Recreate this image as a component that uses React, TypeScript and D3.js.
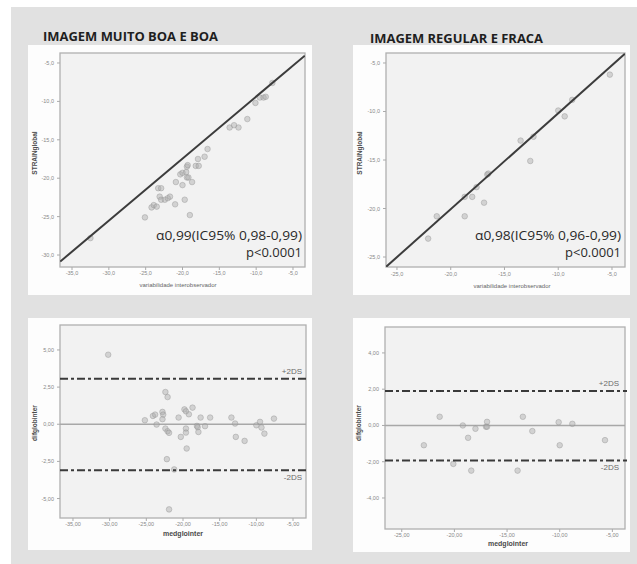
import React from 'react';
import * as d3 from 'd3';

// scatter: variabilidade interobservador (x) vs STRAINglobal (y)
const muitoBoaStrain: [number, number][] = [
  [-32.5, -27.8], [-25.1, -25.1], [-24.2, -23.8], [-23.9, -23.5], [-23.5, -23.7],
  [-23.3, -21.3], [-22.9, -21.3], [-23.1, -22.4], [-22.9, -22.8], [-22.4, -22.8],
  [-22.0, -22.6], [-21.7, -22.4], [-21.0, -23.4], [-20.9, -20.5], [-20.3, -19.5],
  [-20.0, -19.3], [-20.0, -20.9], [-19.7, -22.8], [-19.5, -19.2], [-19.4, -18.5],
  [-19.4, -19.9], [-19.2, -19.9], [-19.3, -18.3], [-18.7, -20.5], [-19.0, -24.8],
  [-18.2, -18.4], [-17.8, -18.4], [-17.9, -17.5], [-17.0, -17.2], [-16.6, -16.2],
  [-13.6, -13.4], [-13.0, -13.1], [-12.4, -13.4], [-11.2, -12.3], [-10.1, -10.2],
  [-9.5, -9.5], [-9.0, -9.5], [-8.7, -9.4], [-7.8, -7.6],
];
const regularStrain: [number, number][] = [
  [-22.1, -23.1], [-21.3, -20.8], [-18.7, -20.8], [-18.7, -18.8], [-18.0, -18.8],
  [-17.6, -17.8], [-16.9, -19.4], [-16.6, -16.5], [-16.5, -16.4], [-13.5, -13.0],
  [-12.3, -12.6], [-12.6, -15.1], [-10.0, -9.9], [-9.4, -10.5], [-8.7, -8.8],
  [-5.2, -6.2],
];
const muitoBoaFit: [number, number][] = [[-36.6, -30.85], [-3.4, -4.05]];
const regularFit: [number, number][] = [[-26.0, -26.0], [-3.8, -4.05]];

// Bland-Altman: medglointer (x) vs difglobinter (y)
const muitoBoaDif: [number, number][] = [
  [-30.2, 4.68], [-25.2, 0.27], [-24.1, 0.56], [-23.8, 0.65], [-23.6, -0.02],
  [-22.8, 0.83], [-22.7, 0.65], [-22.8, 0.34], [-22.4, 2.17], [-22.1, 1.83],
  [-22.4, -0.29], [-22.1, -0.47], [-21.9, -0.58], [-22.2, -2.35], [-21.2, -3.04],
  [-21.9, -5.73], [-20.6, 0.45], [-20.3, -0.85], [-19.8, 1.0], [-19.6, 0.87],
  [-19.6, -0.29], [-19.6, -0.56], [-19.5, -1.63], [-19.2, 0.67], [-18.7, 1.12],
  [-18.1, -0.11], [-18.0, -0.2], [-17.9, -0.52], [-17.6, 0.45], [-17.0, -0.13],
  [-16.3, 0.45], [-13.4, 0.45], [-12.9, 0.05], [-12.8, -0.85], [-11.6, -1.12],
  [-10.0, -0.07], [-9.5, 0.16], [-9.3, -0.22], [-8.9, -0.63], [-7.6, 0.38],
];
const regularDif: [number, number][] = [
  [-22.9, -1.09], [-21.4, 0.48], [-20.1, -2.12], [-19.2, 0.0], [-18.7, -0.68],
  [-18.4, -2.49], [-18.0, -0.18], [-17.0, -0.07], [-16.9, -0.07], [-16.9, 0.2],
  [-14.0, -2.49], [-13.5, 0.48], [-12.6, -0.31], [-10.1, 0.18], [-10.0, -1.09],
  [-8.8, 0.09], [-5.7, -0.81],
];
const muitoBoaLimits = [3.07, -3.09];
const regularLimits = [1.9, -1.93];

const strainTicksA = [-35, -30, -25, -20, -15, -10, -5];
const strainTicksAY = [-5, -10, -15, -20, -25, -30];
const strainTicksB = [-25, -20, -15, -10, -5];
const strainTicksBY = [-5, -10, -15, -20, -25];
const difTicksA = [5, 2.5, 0, -2.5, -5];
const difTicksB = [4, 2, 0, -2, -4];
const medTicksA = [-35, -30, -25, -20, -15, -10, -5];
const medTicksB = [-25, -20, -15, -10, -5];

const fmt1 = (v: number) => v.toFixed(1).replace('.', ',');
const fmt2 = (v: number) => v.toFixed(2).replace('.', ',');

interface PanelProps {
  frame: { x0: number; x1: number; y0: number; y1: number };
  xDomain: [number, number];
  yDomain: [number, number];
  xTicks: number[];
  yTicks: number[];
  fmt: (v: number) => string;
  points: [number, number][];
  fit?: [number, number][];
  limits?: number[];
  xTitle: string;
  xTitlePos: [number, number];
  xBold?: boolean;
  yTitle: string;
  yTitlePos: [number, number];
  tickLabelY: number;
  note?: { a: string; x: number; y: number };
  limitLabelX?: number;
}

const Panel: React.FC<PanelProps> = (p) => {
  const { frame } = p;
  const xs = d3.scaleLinear().domain(p.xDomain).range([frame.x0, frame.x1]);
  const ys = d3.scaleLinear().domain(p.yDomain).range([frame.y1, frame.y0]);
  const line = d3.line<[number, number]>().x(d => xs(d[0])).y(d => ys(d[1]));
  const clipId = `clip-${frame.x0}-${frame.y0}`;
  return (
    <g>
      <defs>
        <clipPath id={clipId}>
          <rect x={frame.x0} y={frame.y0} width={frame.x1 - frame.x0} height={frame.y1 - frame.y0} />
        </clipPath>
      </defs>
      <rect x={frame.x0} y={frame.y0} width={frame.x1 - frame.x0} height={frame.y1 - frame.y0}
        fill="#f2f2f2" stroke="#b0b0b0" strokeWidth={1.3} />
      {p.xTicks.map(t => (
        <g key={'x' + t}>
          <line x1={xs(t)} x2={xs(t)} y1={frame.y1} y2={frame.y1 + 3} stroke="#aaa" />
          <text x={xs(t)} y={p.tickLabelY} fontSize={5.5} fill="#888" textAnchor="middle">{p.fmt(t)}</text>
        </g>
      ))}
      {p.yTicks.map(t => (
        <g key={'y' + t}>
          <line x1={frame.x0 - 3} x2={frame.x0} y1={ys(t)} y2={ys(t)} stroke="#aaa" />
          <text x={frame.x0 - 6} y={ys(t) + 2} fontSize={5.5} fill="#888" textAnchor="end">{p.fmt(t)}</text>
        </g>
      ))}
      <g clipPath={`url(#${clipId})`}>
        {p.limits && (
          <line x1={frame.x0} x2={frame.x1} y1={ys(0)} y2={ys(0)} stroke="#a8a8a8" strokeWidth={1.5} />
        )}
        {p.points.map((d, i) => (
          <circle key={i} cx={xs(d[0])} cy={ys(d[1])} r={2.8}
            fill="#aaaaaa" fillOpacity={0.45} stroke="#909090" strokeOpacity={0.5} strokeWidth={0.8} />
        ))}
        {p.fit && (
          <path d={line(p.fit) || ''} fill="none" stroke="#3c3c3c" strokeWidth={2} />
        )}
      </g>
      {p.limits && p.limits.map((v, i) => (
        <g key={'l' + i}>
          <line x1={frame.x0} x2={frame.x1 + 2} y1={ys(v)} y2={ys(v)} stroke="#3a3a3a"
            strokeWidth={2} strokeDasharray="8,3,3,3" />
          <text x={p.limitLabelX} y={i === 0 ? ys(v) - 5 : ys(v) + 10} fontSize={8}
            fill="#6a6a6a" textAnchor="end">{i === 0 ? '+2DS' : '-2DS'}</text>
        </g>
      ))}
      <text x={p.xTitlePos[0]} y={p.xTitlePos[1]} fontSize={p.xBold ? 7 : 6} textAnchor="middle"
        fill={p.xBold ? '#4a4a4a' : '#666'} fontWeight={p.xBold ? 'bold' : 'normal'}>{p.xTitle}</text>
      <text transform={`translate(${p.yTitlePos[0]},${p.yTitlePos[1]}) rotate(-90)`} fontSize={6.5}
        textAnchor="middle" fill="#4a4a4a" fontWeight="bold">{p.yTitle}</text>
      {p.note && (
        <g fontFamily="Open Sans" fill="#2a2a2a">
          <text x={p.note.x} y={p.note.y} fontSize={13} textAnchor="end" textLength={146}
            lengthAdjust="spacingAndGlyphs">{p.note.a}</text>
          <text x={p.note.x} y={p.note.y + 17} fontSize={13} textAnchor="end">p&lt;0.0001</text>
        </g>
      )}
    </g>
  );
};

const App: React.FC = () => {
  return (
    <svg width={637} height={564} style={{ position: 'absolute', left: 0, top: 0 }}
      fontFamily="Liberation Sans">
      <rect x={0} y={0} width={637} height={564} fill="#fff" />
      <rect x={11} y={7} width={626} height={557} fill="#e1e1e1" />
      <rect x={28} y={45} width={284} height={250} fill="#fdfdfd" />
      <rect x={353} y={45} width={277} height={250} fill="#fdfdfd" />
      <rect x={28} y={318} width={284} height={232} fill="#fdfdfd" />
      <rect x={353} y={318} width={277} height={234} fill="#fdfdfd" />

      <text x={43} y={41} fontSize={12.5} fontWeight="bold" fill="#1e1e1e" fontFamily="Open Sans"
        textLength={175} lengthAdjust="spacingAndGlyphs">IMAGEM MUITO BOA E BOA</text>
      <text x={370} y={43} fontSize={12.5} fontWeight="bold" fill="#1e1e1e" fontFamily="Open Sans"
        textLength={173} lengthAdjust="spacingAndGlyphs">IMAGEM REGULAR E FRACA</text>

      <Panel
        frame={{ x0: 60, x1: 305, y0: 53, y1: 267 }}
        xDomain={[-36.63, -3.37]} yDomain={[-31.56, -3.7]}
        xTicks={strainTicksA} yTicks={strainTicksAY} fmt={fmt1}
        points={muitoBoaStrain} fit={muitoBoaFit}
        xTitle="variabilidade interobservador" xTitlePos={[178, 287]}
        yTitle="STRAINglobal" yTitlePos={[37, 153]} tickLabelY={275}
        note={{ a: 'α0,99(IC95% 0,98-0,99)', x: 302, y: 240 }}
      />
      <Panel
        frame={{ x0: 386, x1: 625, y0: 53, y1: 267 }}
        xDomain={[-26.02, -3.79]} yDomain={[-26.03, -3.97]}
        xTicks={strainTicksB} yTicks={strainTicksBY} fmt={fmt1}
        points={regularStrain} fit={regularFit}
        xTitle="variabilidade interobservador" xTitlePos={[512, 288]}
        yTitle="STRAINglobal" yTitlePos={[362, 153]} tickLabelY={276}
        note={{ a: 'α0,98(IC95% 0,96-0,99)', x: 621, y: 240 }}
      />
      <Panel
        frame={{ x0: 60, x1: 306, y0: 325, y1: 518 }}
        xDomain={[-36.77, -3.23]} yDomain={[-6.31, 6.68]}
        xTicks={medTicksA} yTicks={difTicksA} fmt={fmt2}
        points={muitoBoaDif} limits={muitoBoaLimits} limitLabelX={302}
        xTitle="medglointer" xTitlePos={[183, 536]} xBold
        yTitle="difglobinter" yTitlePos={[37, 423]} tickLabelY={526}
      />
      <Panel
        frame={{ x0: 385, x1: 625, y0: 327, y1: 529 }}
        xDomain={[-26.59, -3.8]} yDomain={[-5.71, 5.43]}
        xTicks={medTicksB} yTicks={difTicksB} fmt={fmt2}
        points={regularDif} limits={regularLimits} limitLabelX={619}
        xTitle="medglointer" xTitlePos={[508, 546]} xBold
        yTitle="difglobinter" yTitlePos={[361, 423]} tickLabelY={537}
      />
    </svg>
  );
};

export default App;
